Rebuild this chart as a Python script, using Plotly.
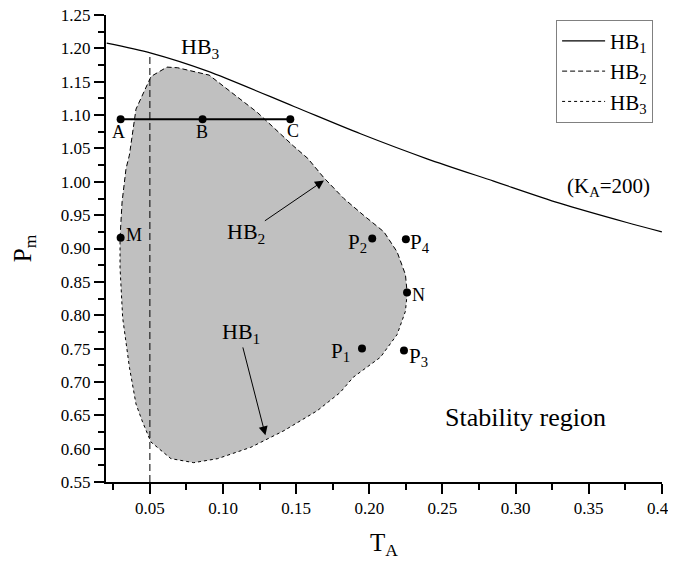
import plotly.graph_objects as go

# axis tick values
x_ticks = [0.05, 0.10, 0.15, 0.20, 0.25, 0.30, 0.35, 0.40]
y_ticks = [0.55, 0.60, 0.65, 0.70, 0.75, 0.80, 0.85, 0.90, 0.95, 1.00, 1.05, 1.10,
           1.15, 1.20, 1.25]

# HB3 label line (drawn solid, top curve)
top_T = [0.0205, 0.0508, 0.0894, 0.1485, 0.194, 0.2395, 0.285, 0.330, 0.376, 0.400]
top_P = [1.208, 1.193, 1.166, 1.113, 1.072, 1.0345, 1.001, 0.968, 0.939, 0.925]

# upper boundary (dashed), from M over the top to N
up_T = [0.0296, 0.031, 0.0337, 0.036, 0.0405, 0.0508, 0.0617, 0.069, 0.0905, 0.103,
        0.1235, 0.148, 0.158, 0.169, 0.1826, 0.196, 0.210, 0.219, 0.2247, 0.2259]
up_P = [0.916, 0.970, 1.020, 1.040, 1.109, 1.158, 1.172, 1.171, 1.160, 1.139,
        1.104, 1.054, 1.035, 1.006, 0.975, 0.950, 0.925, 0.895, 0.861, 0.833]

# lower boundary (dotted), from N round the bottom back to M
lo_T = [0.2259, 0.2247, 0.219, 0.2076, 0.189, 0.180, 0.1645, 0.1417, 0.119, 0.0963,
        0.080, 0.0644, 0.0507, 0.045, 0.0405, 0.036, 0.0314, 0.0296, 0.0296]
lo_P = [0.833, 0.806, 0.771, 0.737, 0.707, 0.684, 0.657, 0.627, 0.602, 0.585,
        0.579, 0.585, 0.610, 0.640, 0.667, 0.722, 0.796, 0.871, 0.916]

# vertical dashed line
vl_T = [0.05, 0.05]
vl_P = [0.55, 1.193]

# segment A-B-C
abc_T = [0.030, 0.086, 0.146]
abc_P = [1.094, 1.094, 1.094]

# individual points M, P2, P4, N, P1, P3
pt_T = [0.030, 0.202, 0.225, 0.2258, 0.195, 0.2237]
pt_P = [0.916, 0.915, 0.914, 0.834, 0.750, 0.747]

# labels
lab_text = ["HB<sub>3</sub>", "A", "B", "C", "M", "P<sub>2</sub>", "P<sub>4</sub>", "N",
            "P<sub>1</sub>", "P<sub>3</sub>", "(K<sub>A</sub>=200)", "Stability region",
            "HB<sub>2</sub>", "HB<sub>1</sub>"]
lab_T = [0.0849, 0.0283, 0.0857, 0.148, 0.0394, 0.1917, 0.2349, 0.2338, 0.1804, 0.2338,
         0.3632, 0.307, 0.1156, 0.1124]
lab_P = [1.200, 1.074, 1.074, 1.076, 0.921, 0.908, 0.908, 0.831, 0.745, 0.738,
         0.992, 0.647, 0.923, 0.774]
lab_size = [22, 18, 18, 18, 18, 21, 21, 18, 21, 21, 21, 26, 22, 22]

# arrows: (tail T, tail P, head T, head P)
arr_tail_T = [0.1276, 0.1133]
arr_tail_P = [0.940, 0.754]
arr_head_T = [0.169, 0.129]
arr_head_P = [1.002, 0.620]

FONT = "Liberation Serif"

fig = go.Figure()

fig.add_trace(go.Scatter(x=up_T + lo_T, y=up_P + lo_P, mode="lines", fill="toself",
                         fillcolor="#c0c0c0", line=dict(width=0), showlegend=False,
                         hoverinfo="skip"))
fig.add_trace(go.Scatter(x=top_T, y=top_P, mode="lines", name="HB<sub>1</sub>",
                         line=dict(color="black", width=1.2, shape="spline", smoothing=0.8)))
fig.add_trace(go.Scatter(x=up_T, y=up_P, mode="lines", name="HB<sub>2</sub>",
                         line=dict(color="black", width=1, dash="5px,3px")))
fig.add_trace(go.Scatter(x=lo_T, y=lo_P, mode="lines", name="HB<sub>3</sub>",
                         line=dict(color="black", width=1, dash="dot")))
fig.add_trace(go.Scatter(x=vl_T, y=vl_P, mode="lines", showlegend=False,
                         line=dict(color="black", width=1, dash="7px,4px")))
fig.add_trace(go.Scatter(x=abc_T, y=abc_P, mode="lines+markers", showlegend=False,
                         line=dict(color="black", width=2),
                         marker=dict(color="black", size=8)))
fig.add_trace(go.Scatter(x=pt_T, y=pt_P, mode="markers", showlegend=False,
                         marker=dict(color="black", size=8)))

for t, x, y, s in zip(lab_text, lab_T, lab_P, lab_size):
    fig.add_annotation(x=x, y=y, text=t, showarrow=False,
                       font=dict(family=FONT, size=s, color="black"))

for tx, ty, hx, hy in zip(arr_tail_T, arr_tail_P, arr_head_T, arr_head_P):
    fig.add_annotation(x=hx, y=hy, ax=tx, ay=ty, axref="x", ayref="y", text="",
                       showarrow=True, arrowhead=2, arrowsize=1.8, arrowwidth=1,
                       arrowcolor="black")

axis_common = dict(showline=True, linecolor="black", linewidth=2, ticks="outside",
                   ticklen=10, tickwidth=2, tickcolor="black", showgrid=False,
                   zeroline=False, mirror=False, automargin=False,
                   ticklabeloverflow="allow",
                   tickfont=dict(family=FONT, size=17, color="black"))

fig.update_xaxes(range=[0.02, 0.4001], tickmode="array", tickvals=x_ticks,
                 ticktext=[f"{v:.2f}" for v in x_ticks],
                 minor=dict(ticks="outside", ticklen=6, tickwidth=2, tickcolor="black",
                            dtick=0.025, tick0=0),
                 title=dict(text="T<sub>A</sub>", font=dict(family=FONT, size=25),
                            standoff=16),
                 **axis_common)
fig.update_yaxes(range=[0.55, 1.2501], tickmode="array", tickvals=y_ticks,
                 ticktext=[f"{v:.2f}" for v in y_ticks],
                 minor=dict(ticks="outside", ticklen=6, tickwidth=2, tickcolor="black",
                            dtick=0.025, tick0=0),
                 title=dict(text="P<sub>m</sub>", font=dict(family=FONT, size=25),
                            standoff=22),
                 **axis_common)

# the page body adds an 8px offset, so margins are shifted accordingly
fig.update_layout(
    width=676, height=567,
    margin=dict(l=98, r=22, t=7, b=93),
    plot_bgcolor="white", paper_bgcolor="white",
    font=dict(family=FONT, color="black"),
    legend=dict(x=0.984, y=0.99, xanchor="right", yanchor="top",
                bordercolor="#808080", borderwidth=1, bgcolor="white",
                font=dict(family=FONT, size=21), itemwidth=43,
                tracegroupgap=0),
)

fig.write_html("out.html")
